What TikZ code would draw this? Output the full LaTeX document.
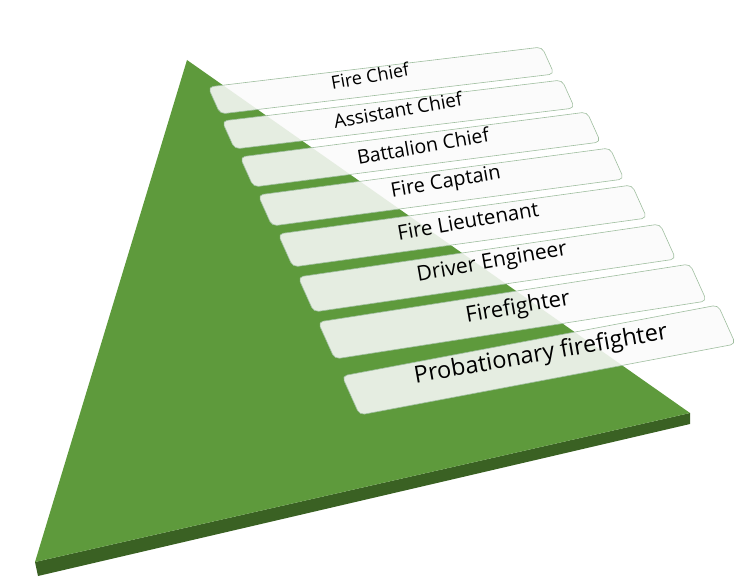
\documentclass[tikz,border=0pt]{standalone}
\usepackage{fontspec}
\setmainfont{Open Sans}
\begin{document}
\begin{tikzpicture}[x=1pt,y=-1pt,
  bar/.style={fill=white!96!gray,fill opacity=0.87,draw=black!20!green!25!gray!60,line width=0.6pt,rounded corners=5pt},
  lbl/.style={rotate=10,text=black,inner sep=0pt}]
\definecolor{pg}{HTML}{5E9A3C}
\definecolor{pd}{HTML}{3A6123}
\useasboundingbox (0,0) rectangle (749,586);
% pyramid
\fill[pd] (35,562) -- (690,413) -- (690,424) -- (38,576) -- cycle;
\fill[pg] (187,60) -- (690,413) -- (35,562) -- cycle;
% bars: #1 TLx,#2 TLy,#3 TRx,#4 TRy,#5 height
\newcommand{\pbar}[5]{%
  \draw[bar] (#1,#2) -- (#3,#4) -- ({#3+0.45*#5},{#4+#5}) -- ({#1+0.45*#5},{#2+#5}) -- cycle;}
\pbar{208}{87}{542}{47}{27}
\pbar{222}{121}{562}{80}{28}
\pbar{240}{157}{587}{112}{30}
\pbar{258}{195}{610}{148}{31}
\pbar{278}{234}{632}{185}{33}
\pbar{298}{277}{660}{224}{35}
\pbar{318}{322}{690}{264}{37}
\pbar{342}{376}{718}{305}{39}
\node[lbl,font=\fontsize{18}{18}\selectfont] (t1) at (370,76) {Fire Chief};
\node[lbl,font=\fontsize{19}{19}\selectfont] (t2) at (398,110) {Assistant Chief};
\node[lbl,font=\fontsize{19.5}{19}\selectfont] (t3) at (423,146) {Battalion Chief};
\node[lbl,font=\fontsize{20}{20}\selectfont] (t4) at (446,183) {Fire Captain};
\node[lbl,font=\fontsize{20.5}{20}\selectfont] (t5) at (468,221) {Fire Lieutenant};
\node[lbl,font=\fontsize{21}{21}\selectfont] (t6) at (492,263) {Driver Engineer};
\node[lbl,font=\fontsize{22}{22}\selectfont] (t7) at (518,308) {Firefighter};
\node[lbl,font=\fontsize{23.5}{23}\selectfont] (t8) at (541,355) {Probationary firefighter};
\end{tikzpicture}
\end{document}
